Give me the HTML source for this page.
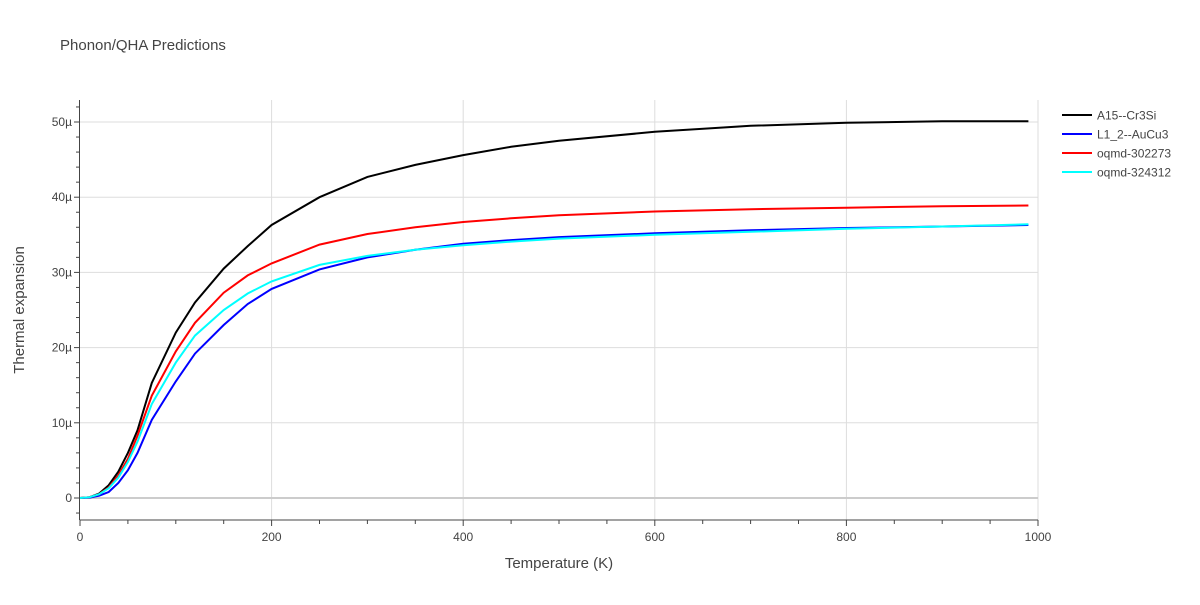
<!DOCTYPE html>
<html><head><meta charset="utf-8"><style>
body{margin:0;background:#fff;font-family:"Liberation Sans","Open Sans",sans-serif}
svg text{font-family:"Liberation Sans",sans-serif;fill:#444}
</style></head><body>
<svg id="chart" width="1200" height="600" xmlns="http://www.w3.org/2000/svg">
<text x="60" y="50" font-size="15">Phonon/QHA Predictions</text>
<g id="grid"></g><g id="axes"></g><g id="series"></g><g id="legend"></g>
<text x="559" y="568" font-size="15" text-anchor="middle">Temperature (K)</text>
<text transform="translate(24,310) rotate(-90)" font-size="15" text-anchor="middle">Thermal expansion</text>
</svg>
<script>
const temps = [0,10,20,30,40,50,60,75,100,120,150,175,200,250,300,350,400,450,500,600,700,800,900,990];
const seriesNames = ["A15--Cr3Si","L1_2--AuCu3","oqmd-302273","oqmd-324312"];
const seriesColors = ["#000000","#0000ff","#ff0000","#00ffff"];
const blackVals = [0,0.1,0.6,1.7,3.5,6,9,15.3,22,26,30.5,33.5,36.3,40,42.7,44.3,45.6,46.7,47.5,48.7,49.5,49.9,50.1,50.1];
const blueVals  = [0,0.05,0.3,0.8,2,3.7,6,10.4,15.5,19.2,23,25.8,27.8,30.4,32,33,33.8,34.3,34.7,35.2,35.6,35.9,36.1,36.3];
const redVals   = [0,0.1,0.5,1.4,3,5.2,8.3,13.6,19.5,23.3,27.3,29.6,31.2,33.7,35.1,36,36.7,37.2,37.6,38.1,38.4,38.6,38.8,38.9];
const cyanVals  = [0,0.1,0.5,1.3,2.7,4.8,7.5,12.5,18,21.6,25,27.2,28.8,31,32.2,33,33.6,34.1,34.5,35,35.4,35.8,36.1,36.4];
const allVals = [blackVals,blueVals,redVals,cyanVals];
const xTicks = [0,200,400,600,800,1000];
const yTicks = [0,10,20,30,40,50];
const yTickLabels = ["0","10µ","20µ","30µ","40µ","50µ"];
const NS="http://www.w3.org/2000/svg";
const X0=80,X1=1038,Y0=498,PY=7.52;
const xs=t=>X0+(X1-X0)*t/1000;
const ys=v=>Y0-v*PY;
function mk(tag,attrs,parent){const e=document.createElementNS(NS,tag);for(const k in attrs)e.setAttribute(k,attrs[k]);parent.appendChild(e);return e;}
const grid=document.getElementById('grid'),axes=document.getElementById('axes'),ser=document.getElementById('series'),leg=document.getElementById('legend');
xTicks.forEach(t=>{if(t>0){const l=mk('line',{x1:xs(t),x2:xs(t),y1:100,y2:520,stroke:'#ddd'},grid);

}
const tx=mk('text',{x:xs(t),y:541,'font-size':12,'text-anchor':'middle'},axes);tx.textContent=t;

});
for(let t=0;t<=1000;t+=50){mk('line',{x1:xs(t),x2:xs(t),y1:520,y2:t%200==0?526:524,stroke:'#444'},axes);}
yTicks.forEach((v,i)=>{const l=mk('line',{x1:80,x2:1038,y1:ys(v),y2:ys(v),stroke:v==0?'#ccc':'#ddd','stroke-width':v==0?2:1},grid);


const tx=mk('text',{x:72,y:ys(v)+4,'font-size':12,'text-anchor':'end'},axes);tx.textContent=yTickLabels[i];

});
for(let v=-2;v<=52;v+=2){mk('line',{x1:80,x2:v%10==0?74:76,y1:ys(v),y2:ys(v),stroke:'#444'},axes);}
mk('line',{x1:79.5,x2:79.5,y1:100,y2:520,stroke:'#444'},axes);
mk('line',{x1:79.5,x2:1038,y1:520,y2:520,stroke:'#444'},axes);
allVals.forEach((vals,i)=>{const d=vals.map((v,j)=>(j?'L':'M')+xs(temps[j]).toFixed(1)+','+ys(v).toFixed(1)).join('');
const p=mk('path',{d:d,fill:'none',stroke:seriesColors[i],'stroke-width':2},ser);


const y=115+i*19;
const g=mk('g',{},leg);


mk('line',{x1:1062,x2:1092,y1:y,y2:y,stroke:seriesColors[i],'stroke-width':2},g);
const tx=mk('text',{x:1097,y:y+4.5,'font-size':12},g);tx.textContent=seriesNames[i];});
</script>
</body></html>
